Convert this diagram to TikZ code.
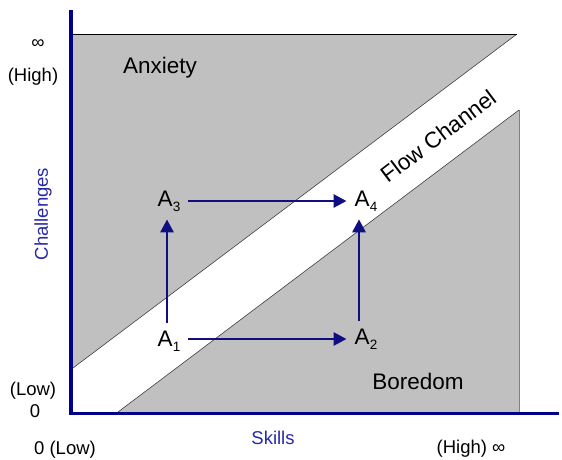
\documentclass[tikz,border=0pt]{standalone}
\usepackage{fontspec}
\setmainfont{Liberation Sans}
\usetikzlibrary{arrows.meta}
\definecolor{regiongray}{RGB}{192,192,192}
\definecolor{axisnavy}{RGB}{0,0,140}
\definecolor{arrownavy}{RGB}{15,15,130}
\definecolor{labelblue}{RGB}{40,40,170}
\newcommand\subidx[1]{\raisebox{-0.4ex}{\fontsize{13.5}{13.5}\selectfont #1}}
\begin{document}
\begin{tikzpicture}[x=1pt,y=-1pt,
  region/.style={fill=regiongray},
  diag/.style={draw=black!75,line width=0.6pt},
  axis/.style={draw=axisnavy,line width=3.5pt},
  flowarrow/.style={draw=arrownavy,line width=2.8pt,-{Triangle[length=13pt,width=13pt]},shorten <=8pt,shorten >=8pt},
  statenode/.style={inner sep=0pt,font=\fontsize{22.5}{22.5}\selectfont},
  zonelabel/.style={font=\fontsize{22.5}{22.5}\selectfont},
  ticklabel/.style={font=\fontsize{18.5}{18.5}\selectfont},
  axislabel/.style={font=\fontsize{18.5}{18.5}\selectfont,text=labelblue}]
\useasboundingbox (0,0) rectangle (562,459);
% upper (anxiety) region
\fill[region] (73,34) -- (517,34) -- (73,368) -- cycle;
\draw[diag] (517,34) -- (73,368);
\draw[black,line width=1pt] (73,34) -- (517,34);
% lower (boredom) region
\fill[region] (118,412) -- (519,110) -- (519,412) -- cycle;
\draw[diag] (118,412) -- (519,110);
\draw[gray,line width=0.6pt] (519,110) -- (519,412);
% axes
\draw[axis] (71,10) -- (71,413.5) -- (559,413.5);
% zone labels
\node[zonelabel] (anx) at (160,68) {Anxiety};
\node[zonelabel] (bor) at (418,381) {Boredom};
\node[zonelabel,rotate=37] (flow) at (438,136) {Flow Channel};
% states
\node[statenode] (a1) at (169,341) {A\subidx{1}};
\node[statenode] (a2) at (366,339) {A\subidx{2}};
\node[statenode] (a3) at (169,201) {A\subidx{3}};
\node[statenode] (a4) at (366,201) {A\subidx{4}};
\draw[flowarrow] ([xshift=-2pt]a1.north) -- ([xshift=-2pt]a3.south);
\draw[flowarrow] (a3) -- (a4);
\draw[flowarrow] ([yshift=2pt]a1.east) -- ([yshift=2pt]a1.east -| a2.west);
\draw[flowarrow] ([xshift=-7pt]a2.north) -- ([xshift=-7pt]a4.south);
% tick labels
\node[ticklabel] (inftop) at (38,44) {∞};
\node[ticklabel] (high) at (33,77) {(High)};
\node[ticklabel] (low) at (33,391) {(Low)};
\node[ticklabel] (zero) at (35,411) {0};
\node[ticklabel] (zerolow) at (65,450) {0 (Low)};
\node[ticklabel] (highinf) at (471,449) {(High) ∞};
% axis labels
\node[axislabel] (skills) at (273,438) {Skills};
\node[axislabel,rotate=90] (chal) at (43,214) {Challenges};
\end{tikzpicture}
\end{document}
